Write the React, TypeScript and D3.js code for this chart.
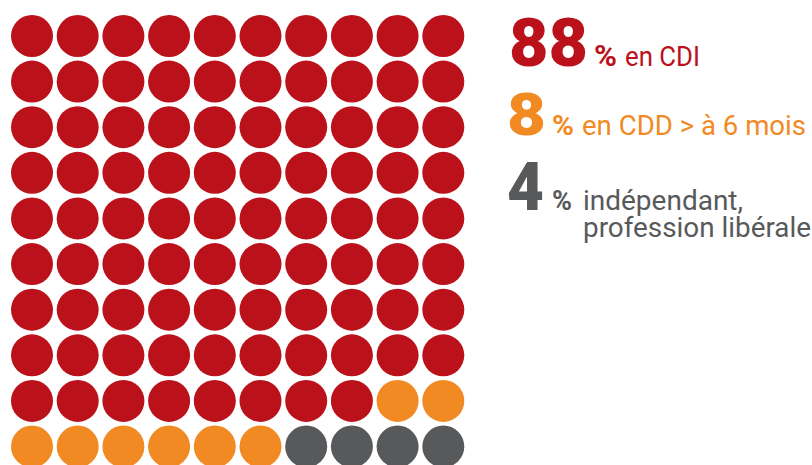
import React from "react";
import * as d3 from "d3";

const categories = ["en CDI", "en CDD > à 6 mois", "indépendant, profession libérale"];
const values = [88, 8, 4];
const colors = ["#BA111A", "#F28A24", "#58595B"];
const gridSize = 10;

const W = 812;
const H = 465;

export default function App() {
  const cells: { i: number; color: string }[] = [];
  values.forEach((v, k) => {
    for (let j = 0; j < v; j++) cells.push({ i: cells.length, color: colors[k] });
  });
  const idx = d3.range(gridSize);
  const xs = d3.scalePoint<number>().domain(idx).range([32, 443.3]);
  const ys = d3.scalePoint<number>().domain(idx).range([36, 446.5]);
  const r = 21;

  // text layout per entry
  const layout = [
    { numX: 509, base: 66, numSize: 67, numLen: 79, pctX: 594, pctLen: 23, pctSize: 30, lblX: 625, lblSize: 28, lblLens: [75] },
    { numX: 507, base: 135, numSize: 59, numLen: 39, pctX: 552, pctLen: 22, pctSize: 28, lblX: 582, lblSize: 27, lblLens: [224] },
    { numX: 507, base: 210, numSize: 66, numLen: 37, pctX: 552, pctLen: 20, pctSize: 27, lblX: 583, lblSize: 28, lblLens: [160, 228] },
  ];

  const numFont = "Roboto, 'Open Sans', sans-serif";
  const lblFont = "Roboto, 'Open Sans', sans-serif";

  return (
    <svg width={W} height={H} style={{ position: "absolute", left: 0, top: 0, background: "#fff" }}>
      <g>
        {cells.map((c) => (
          <circle
            key={c.i}
            cx={xs(c.i % gridSize)}
            cy={ys(Math.floor(c.i / gridSize))}
            r={r}
            fill={c.color}
          />
        ))}
      </g>
      {categories.map((cat, k) => {
        const L = layout[k];
        const lines = cat.includes(", ") ? [cat.split(", ")[0] + ",", cat.split(", ")[1]] : [cat];
        return (
          <g key={k} fill={colors[k]}>
            <text
              x={L.numX}
              y={L.base}
              fontFamily={numFont}
              fontSize={L.numSize}
              fontWeight={900}
              textLength={L.numLen}
              lengthAdjust="spacingAndGlyphs"
            >
              {values[k]}
            </text>
            <text
              x={L.pctX}
              y={L.base}
              fontFamily={numFont}
              fontSize={L.pctSize}
              fontWeight={700}
              textLength={L.pctLen}
              lengthAdjust="spacingAndGlyphs"
            >
              %
            </text>
            <text fontFamily={lblFont} fontSize={L.lblSize} fontWeight={400}>
              {lines.map((ln, li) => (
                <tspan
                  key={li}
                  x={L.lblX}
                  y={L.base + li * 27}
                  textLength={L.lblLens[li]}
                  lengthAdjust="spacingAndGlyphs"
                >
                  {ln}
                </tspan>
              ))}
            </text>
          </g>
        );
      })}
    </svg>
  );
}
